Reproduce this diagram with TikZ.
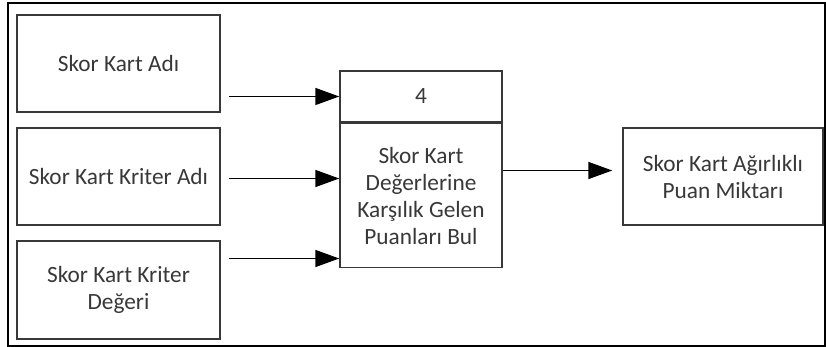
\documentclass[tikz,border=0pt]{standalone}
\usepackage{fontspec}
\setmainfont{Carlito}
\usetikzlibrary{arrows.meta,positioning}
\definecolor{ink}{HTML}{383838}
\tikzset{
  box/.style={draw=ink, line width=1.5pt, text=ink, align=center,
    inner sep=0pt, font=\fontsize{23.3}{27}\selectfont},
  flow/.style={draw=black, line width=1.5pt,
    -{Triangle[length=24pt,width=17pt]}},
}
\begin{document}
\begin{tikzpicture}[x=1pt,y=-1pt]
  \useasboundingbox (0,0) rectangle (826,347);
  % outer frame
  \draw[line width=2.2pt] (8,3) rectangle (825,346);

  % input data boxes
  \node[box, minimum width=203pt, minimum height=97pt] (b1) at (118.5,63.5) {Skor Kart Adı};
  \node[box, minimum width=203pt, minimum height=97pt] (b2) at (118.5,176.5) {Skor Kart Kriter Adı};
  \node[box, minimum width=203pt, minimum height=98pt] (b3) at (118.5,290) {Skor Kart Kriter\\Değeri};

  % process 4: number header and description body
  \node[box, minimum width=162pt, minimum height=51pt] (h) at (421,96.5) {4};
  \node[box, minimum width=162pt, minimum height=144pt, anchor=north] (p) at (h.south) {Skor Kart\\Değerlerine\\Karşılık Gelen\\Puanları Bul};

  % output box
  \node[box, minimum width=200pt, minimum height=97pt] (out) at (723,176.5) {Skor Kart Ağırlıklı\\Puan Miktarı};

  % input flows
  \coordinate (t2) at ([yshift=17pt]p.west);
  \coordinate (t3) at ([yshift=-63pt]p.west);
  \draw[flow] ([xshift=8pt]b1.east |- h.west) -- (h.west);
  \draw[flow] ([xshift=8pt]b2.east |- t2) -- (t2);
  \draw[flow] ([xshift=8pt]b3.east |- t3) -- (t3);

  % output flow
  \coordinate (s4) at ([yshift=25pt]p.east);
  \draw[flow] (s4) -- ([xshift=-10pt]out.west |- s4);
\end{tikzpicture}
\end{document}
